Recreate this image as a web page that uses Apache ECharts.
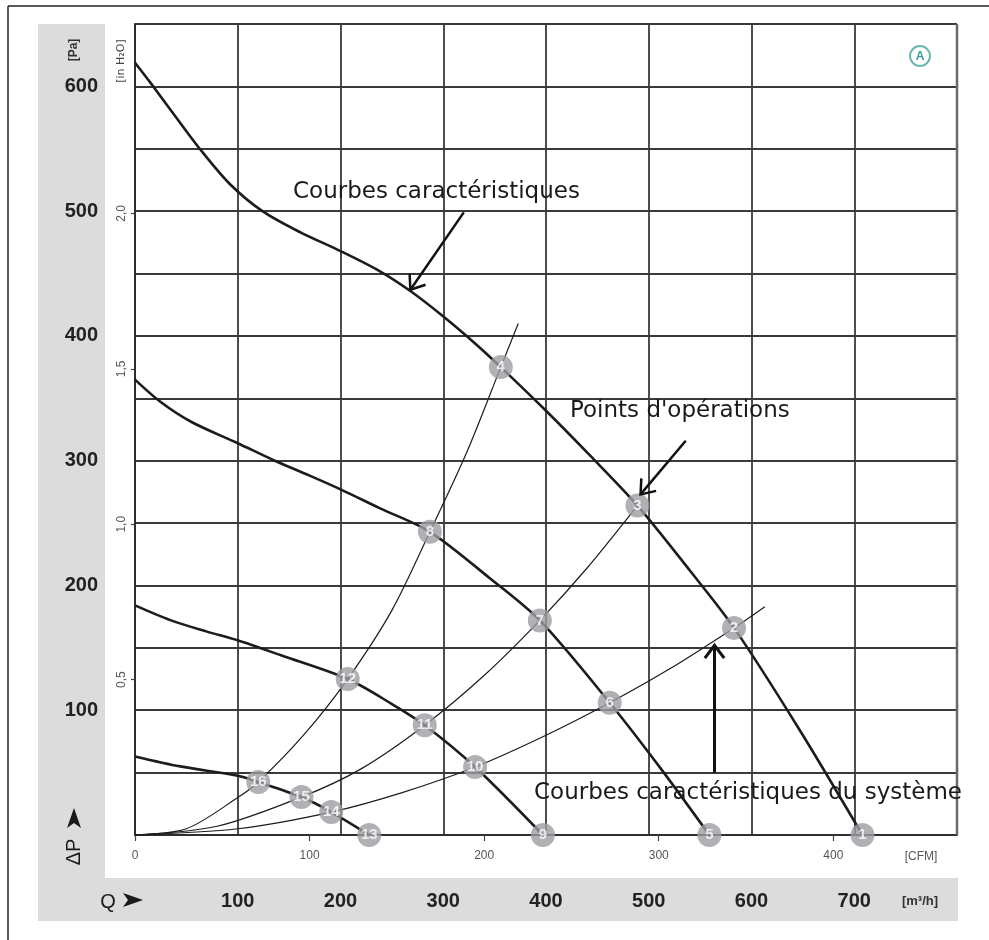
<!DOCTYPE html>
<html>
<head>
<meta charset="utf-8">
<script src="https://cdn.jsdelivr.net/npm/echarts@6/dist/echarts.min.js"></script>
<style>
  html, body { margin: 0; padding: 0; background: #ffffff; }
  #chart { width: 989px; height: 940px; }
</style>
</head>
<body>
<div id="chart"></div>
<script>
// Axis tick values
const flowTicks = [100, 200, 300, 400, 500, 600, 700];      // m³/h
const cfmTicks = [0, 100, 200, 300, 400];                   // CFM
const pressureTicks = [100, 200, 300, 400, 500, 600];       // Pa
const inH2OTicks = [0.5, 1.0, 1.5, 2.0];                    // in H2O

// Unit conversions for the secondary scales
const M3H_PER_CFM = 1.699;
const PA_PER_INH2O = 249.089;
const FLOW_MAX = 800;
const PRESSURE_MAX = 650;

// Fan characteristic curves [Q m³/h, ΔP Pa]
const fanCurve1 = [[0, 619], [15, 603], [41, 574], [63, 550], [92, 522], [124, 500], [161, 483], [200, 468], [238, 452], [268, 436], [301, 415], [331, 394], [356, 375], [400, 340], [443, 304], [489, 264], [540, 212], [583, 166], [647, 84], [708, 0]];
const fanCurve2 = [[0, 365], [25, 347], [55, 331], [100, 314], [136, 300], [170, 288], [200, 277], [238, 262], [287, 243], [345, 206], [394, 172], [462, 106], [511, 54], [559, 0]];
const fanCurve3 = [[0, 184], [35, 172], [70, 163], [100, 156], [142, 144], [207, 125], [248, 106], [282, 88], [331, 54.5], [397, 0]];
const fanCurve4 = [[0, 63], [44, 55], [100, 47.5], [120, 42.5], [162, 30.4], [191, 18.4], [228, 0]];

// System characteristic curves [Q m³/h, ΔP Pa]
const systemCurve1 = [[0, 0], [50, 5], [100, 30], [120, 42.5], [164, 80], [207, 125], [250, 180], [287, 243], [323, 307], [356, 375], [373, 410]];
const systemCurve2 = [[0, 0], [80, 7], [162, 30.4], [220, 53], [282, 88], [340, 128], [394, 172], [440, 214], [489, 264]];
const systemCurve3 = [[0, 0], [100, 5], [191, 18.4], [260, 34], [331, 54.5], [400, 80], [462, 106], [520, 133], [583, 166], [613, 183]];

// Operating points
const pointIds = [1, 2, 3, 4, 5, 6, 7, 8, 9, 10, 11, 12, 13, 14, 15, 16];
const pointQ = [708, 583, 489, 356, 559, 462, 394, 287, 397, 331, 282, 207, 228, 191, 162, 120];
const pointP = [0, 166, 264, 375, 0, 106, 172, 243, 0, 54.5, 88, 125, 0, 18.4, 30.4, 42.5];

const chart = echarts.init(document.getElementById('chart'), null, { renderer: 'canvas' });

const gridColor = '#3a3a3a';
const numFont = "'Liberation Sans', Arial, sans-serif";
const noteFont = "'DejaVu Sans', Verdana, sans-serif";

function fanSeries(data) {
  return {
    type: 'line', data: data, smooth: 0.3, showSymbol: false, silent: true,
    lineStyle: { color: '#1c1c1c', width: 2.6 }, z: 3
  };
}
function systemSeries(data) {
  return {
    type: 'line', data: data, smooth: 0.3, showSymbol: false, silent: true,
    lineStyle: { color: '#1c1c1c', width: 1.2 }, z: 3
  };
}

const option = {
  animation: false,
  backgroundColor: '#ffffff',
  grid: { left: 135, top: 24, width: 822, height: 811, containLabel: false },
  xAxis: [
    {
      type: 'value', min: 0, max: FLOW_MAX, interval: 100, position: 'bottom',
      axisLine: { show: true, onZero: false, lineStyle: { color: '#2e2e2e', width: 2 } },
      axisTick: { show: false },
      splitLine: { show: true, lineStyle: { color: gridColor, width: 1.8 } },
      axisLabel: {
        customValues: flowTicks, margin: 56, fontSize: 20, fontWeight: 'bold',
        color: '#222', fontFamily: numFont
      }
    },
    {
      type: 'value', min: 0, max: FLOW_MAX / M3H_PER_CFM, position: 'bottom',
      axisLine: { show: false },
      axisTick: { show: true, customValues: cfmTicks, length: 6, lineStyle: { color: '#444', width: 1.2 } },
      splitLine: { show: false },
      axisLabel: {
        customValues: cfmTicks, margin: 15, fontSize: 12, color: '#555', fontFamily: numFont
      }
    }
  ],
  yAxis: [
    {
      type: 'value', min: 0, max: PRESSURE_MAX, interval: 50, position: 'left',
      axisLine: { show: true, onZero: false, lineStyle: { color: '#2e2e2e', width: 2 } },
      axisTick: { show: false },
      splitLine: { show: true, lineStyle: { color: gridColor, width: 1.8 } },
      axisLabel: {
        customValues: pressureTicks, margin: 37, fontSize: 20, fontWeight: 'bold',
        color: '#222', fontFamily: numFont
      }
    },
    {
      type: 'value', min: 0, max: PRESSURE_MAX / PA_PER_INH2O, position: 'left',
      axisLine: { show: false },
      axisTick: { show: true, customValues: inH2OTicks, length: 4, lineStyle: { color: '#444', width: 1.2 } },
      splitLine: { show: false },
      axisLabel: {
        customValues: inH2OTicks, rotate: 90, margin: 7, fontSize: 12, color: '#555', fontFamily: numFont,
        formatter: v => v.toFixed(1).replace('.', ',')
      }
    }
  ],
  series: [
    fanSeries(fanCurve1), fanSeries(fanCurve2), fanSeries(fanCurve3), fanSeries(fanCurve4),
    systemSeries(systemCurve1), systemSeries(systemCurve2), systemSeries(systemCurve3),
    {
      type: 'scatter', silent: true, z: 5,
      data: pointIds.map((id, i) => ({ value: [pointQ[i], pointP[i]], name: String(id) })),
      symbol: 'circle', symbolSize: 24,
      itemStyle: { color: '#9b9ea2' },
      label: {
        show: true, position: 'inside', formatter: p => p.name,
        color: '#ffffff', fontSize: 15, fontWeight: 'bold', fontFamily: numFont
      }
    }
  ]
};

chart.setOption(option);

// Annotation arrows, anchored in data space [Q, ΔP]
const arrows = [
  { from: [320, 499], to: [268, 437], width: 2.5 },
  { from: [536, 316], to: [492, 273], width: 2.5 },
  { from: [564, 50], to: [564, 152], width: 3 }
];

function arrowGraphic(a) {
  const p0 = chart.convertToPixel({ xAxisIndex: 0, yAxisIndex: 0 }, a.from);
  const p1 = chart.convertToPixel({ xAxisIndex: 0, yAxisIndex: 0 }, a.to);
  const ang = Math.atan2(p1[1] - p0[1], p1[0] - p0[0]);
  const len = 16, spread = 0.65;
  const h1 = [p1[0] - len * Math.cos(ang - spread), p1[1] - len * Math.sin(ang - spread)];
  const h2 = [p1[0] - len * Math.cos(ang + spread), p1[1] - len * Math.sin(ang + spread)];
  const style = { stroke: '#111', lineWidth: a.width, fill: null, lineCap: 'butt', lineJoin: 'miter' };
  return [
    { type: 'line', z: 20, shape: { x1: p0[0], y1: p0[1], x2: p1[0], y2: p1[1] }, style: style },
    { type: 'polyline', z: 20, shape: { points: [h1, p1, h2] }, style: style }
  ];
}

// Notched arrowhead used beside the axis titles
function pointer(cx, cy, rot) {
  return {
    type: 'polygon', x: cx, y: cy, rotation: rot, z: 5,
    shape: { points: [[-10, -7], [10, 0], [-10, 7], [-5, 0]] },
    style: { fill: '#1a1a1a' }
  };
}

const graphics = [
  // outer frame
  { type: 'line', shape: { x1: 8, y1: 6, x2: 989, y2: 6 }, style: { stroke: '#222', lineWidth: 1.5 }, z: 1 },
  { type: 'line', shape: { x1: 8, y1: 6, x2: 8, y2: 940 }, style: { stroke: '#222', lineWidth: 1.5 }, z: 1 },
  // grey label bands
  { type: 'rect', shape: { x: 38, y: 24, width: 67, height: 854 }, style: { fill: '#dcdcdc' }, z: -10 },
  { type: 'rect', shape: { x: 38, y: 878, width: 920, height: 43 }, style: { fill: '#dcdcdc' }, z: -10 },
  // right border of the plot
  { type: 'line', shape: { x1: 957, y1: 24, x2: 957, y2: 835 }, style: { stroke: '#6a6a6a', lineWidth: 2.5 }, z: 4 },
  // unit titles
  { type: 'text', x: 74, y: 50, rotation: Math.PI / 2, z: 5,
    style: { text: '[Pa]', font: "bold 12px 'Liberation Sans', Arial, sans-serif", fill: '#333', align: 'center', verticalAlign: 'middle' } },
  { type: 'text', x: 121, y: 61, rotation: Math.PI / 2, z: 5,
    style: { text: '[in H₂O]', font: "11px 'DejaVu Sans', sans-serif", fill: '#444', align: 'center', verticalAlign: 'middle' } },
  { type: 'text', x: 921, y: 857, z: 5,
    style: { text: '[CFM]', font: "12px 'Liberation Sans', Arial, sans-serif", fill: '#555', align: 'center', verticalAlign: 'middle' } },
  { type: 'text', x: 920, y: 901, z: 5,
    style: { text: '[m³/h]', font: "bold 13px 'Liberation Sans', Arial, sans-serif", fill: '#333', align: 'center', verticalAlign: 'middle' } },
  // axis titles ΔP and Q with pointers
  { type: 'text', x: 74, y: 852, rotation: Math.PI / 2, z: 5,
    style: { text: 'ΔP', font: "20px 'Liberation Sans', Arial, sans-serif", fill: '#1a1a1a', align: 'center', verticalAlign: 'middle' } },
  pointer(74, 818, Math.PI / 2),
  { type: 'text', x: 108, y: 902, z: 5,
    style: { text: 'Q', font: "20px 'Liberation Sans', Arial, sans-serif", fill: '#1a1a1a', align: 'center', verticalAlign: 'middle' } },
  pointer(133, 900, 0),
  // circled A badge
  { type: 'circle', shape: { cx: 920, cy: 56, r: 10 }, style: { stroke: '#6cb7ad', lineWidth: 2, fill: '#ffffff' }, z: 5 },
  { type: 'text', x: 920, y: 57, z: 6,
    style: { text: 'A', font: "bold 12px 'Liberation Sans', Arial, sans-serif", fill: '#3d9ea0', align: 'center', verticalAlign: 'middle' } },
  // annotation texts
  { type: 'text', x: 293, y: 192, z: 20,
    style: { text: 'Courbes caractéristiques', font: '23px ' + noteFont, fill: '#1a1a1a', align: 'left', verticalAlign: 'middle' } },
  { type: 'text', x: 570, y: 411, z: 20,
    style: { text: "Points d'opérations", font: '23px ' + noteFont, fill: '#1a1a1a', align: 'left', verticalAlign: 'middle' } },
  { type: 'text', x: 534, y: 793, z: 20,
    style: { text: 'Courbes caractéristiques du système', font: '23px ' + noteFont, fill: '#1a1a1a', align: 'left', verticalAlign: 'middle' } }
];

arrows.forEach(a => { arrowGraphic(a).forEach(g => graphics.push(g)); });

chart.setOption({ graphic: { elements: graphics } });
</script>
</body>
</html>
